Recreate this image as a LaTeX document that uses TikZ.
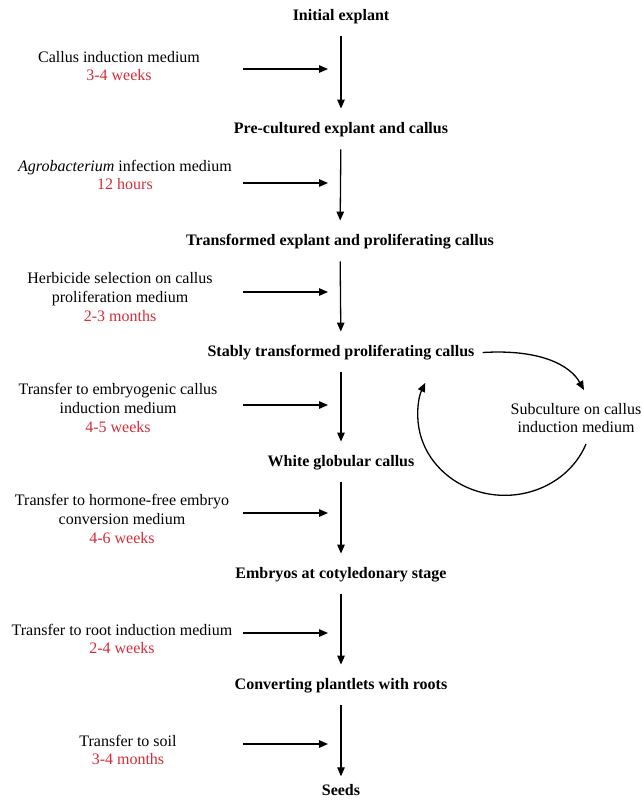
\documentclass[tikz,border=0pt]{standalone}
\usepackage{fontspec}
\setmainfont{Liberation Serif}
\usetikzlibrary{arrows.meta}
\definecolor{myred}{RGB}{214,44,56}
\begin{document}
\begin{tikzpicture}[x=1pt,y=-1pt,
  every node/.style={font=\fontsize{16}{18.7}\selectfont},
  mainbox/.style={font=\fontsize{16}{18.7}\selectfont\bfseries, inner sep=0pt, text height=11pt, text depth=3.5pt},
  sidebox/.style={align=center, inner sep=0pt},
  arr/.style={line width=1.3pt, -{Triangle[length=9pt,width=7.5pt]}},
  vline/.style={arr, shorten <=12pt, shorten >=14pt}
]
\useasboundingbox (0,0) rectangle (643,801);
% main column
\node[mainbox] (n1) at (341,17) {Initial explant};
\node[mainbox] (n2) at (341,130) {Pre-cultured explant and callus};
\node[mainbox] (n3) at (340,242) {Transformed explant and proliferating callus};
\node[mainbox] (n4) at (341,353) {Stably transformed proliferating callus};
\node[mainbox] (n5) at (341,463) {White globular callus};
\node[mainbox] (n6) at (341,575) {Embryos at cotyledonary stage};
\node[mainbox] (n7) at (341,686) {Converting plantlets with roots};
\node[mainbox, text depth=0pt, anchor=base] (n8) at (341,795.5) {Seeds};
\draw[vline] (n1) -- (n2);
\draw[vline] (n2) -- (n3);
\draw[vline] (n3) -- (n4);
\draw[vline] (n4) -- (n5);
\draw[vline] (n5) -- (n6);
\draw[vline] (n6) -- (n7);
\draw[vline, shorten >=8pt] (n7) -- (n8);
% side labels
\node[sidebox] (s1) at (119,66) {Callus induction medium\\\textcolor{myred}{3-4 weeks}};
\node[sidebox] (s2) at (125,175) {\textit{Agrobacterium} infection medium\\\textcolor{myred}{12 hours}};
\node[sidebox] (s3) at (120,297) {Herbicide selection on callus\\proliferation medium\\\textcolor{myred}{2-3 months}};
\node[sidebox] (s4) at (118,408) {Transfer to embryogenic callus\\induction medium\\\textcolor{myred}{4-5 weeks}};
\node[sidebox] (s5) at (122,519) {Transfer to hormone-free embryo\\conversion medium\\\textcolor{myred}{4-6 weeks}};
\node[sidebox] (s6) at (122,639) {Transfer to root induction medium\\\textcolor{myred}{2-4 weeks}};
\node[sidebox] (s7) at (128,750) {Transfer to soil\\\textcolor{myred}{3-4 months}};
% horizontal arrows
\foreach \i/\y in {1/69,2/183,3/292,4/405,5/513,6/633,7/744}{
  \coordinate (h\i a) at (243,\y);
  \coordinate (h\i b) at (328,\y);
  \draw[arr] (h\i a) -- (h\i b);
}
% cycle
\node[sidebox] (sub) at (576,418) {Subculture on callus\\induction medium};
\coordinate (c1) at (584,390);
\coordinate (c2) at (586,444);
\draw[arr, shorten <=8pt]
  (n4.east) .. controls (540,349) and (570,365) .. (c1);
\draw[arr] (c2) arc[start angle=21, end angle=204, x radius=87, y radius=80];
\end{tikzpicture}
\end{document}
